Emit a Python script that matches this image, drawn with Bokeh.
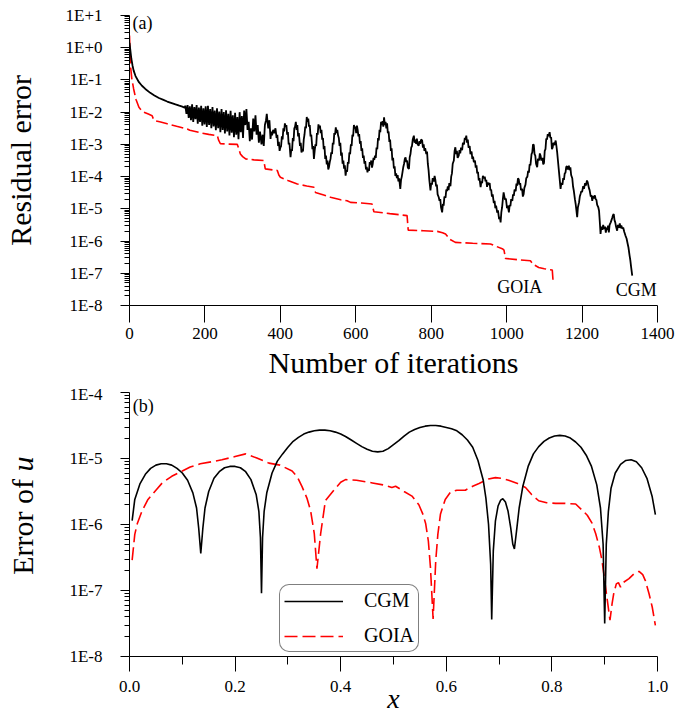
from bokeh.plotting import figure
from bokeh.models import (FixedTicker, CustomJSTickFormatter, Label, Legend, LegendItem,
                          PrintfTickFormatter, Range1d)
from bokeh.layouts import column, row
from bokeh.embed import file_html
from bokeh.resources import INLINE

# ---------------- data: panel (a) residual error vs iterations (log10 of residual) ----------------
iter_ticks = [0, 200, 400, 600, 800, 1000, 1200, 1400]
res_decades = list(range(-8, 2))          # 1E-8 ... 1E+1

cgm_a = [
    (0, 0.15), (2, -0.05), (5, -0.35), (8, -0.55), (11, -0.71), (16, -0.88), (25, -1.07), (33, -1.18),
    (42, -1.28), (55, -1.40), (66, -1.48), (78, -1.56), (90, -1.62), (100, -1.67), (110, -1.71),
    (122, -1.76), (132, -1.80), (140, -1.83), (146, -1.86),
    (148, -1.80), (151, -2.05), (154, -1.78), (157, -2.18), (160, -1.82), (163, -2.25), (166, -1.76),
    (169, -2.30), (172, -1.84), (175, -2.22), (178, -1.78), (181, -2.36), (184, -1.86), (187, -2.30),
    (190, -1.80), (193, -2.42), (196, -1.88), (199, -2.38), (202, -1.82), (205, -2.46), (208, -1.80),
    (211, -2.40), (214, -1.90), (217, -2.50), (220, -1.84), (223, -2.44), (226, -1.95), (229, -2.56),
    (232, -1.88), (235, -2.50), (238, -1.98), (241, -2.62), (244, -1.90), (247, -2.55), (250, -2.00),
    (253, -2.66), (256, -1.94), (259, -2.60), (262, -2.05), (265, -2.72), (268, -1.96), (271, -2.64),
    (274, -2.10), (277, -2.78), (280, -2.02), (283, -2.70), (286, -2.15), (289, -2.84), (292, -2.00),
    (295, -2.62), (298, -2.12), (301, -2.80), (304, -1.95), (307, -2.40), (310, -1.90), (313, -2.55),
    (316, -2.30), (319, -2.90), (322, -2.50), (325, -2.85), (328, -2.20), (331, -2.60), (334, -2.10),
    (337, -2.70), (340, -2.40), (343, -2.95), (346, -2.60), (350, -3.00), (353, -2.70), (356, -3.05),
    (359, -2.40), (362, -2.25), (364, -2.05), (366, -2.30), (368, -2.50), (371, -2.25), (374, -2.83),
    (376, -2.60), (378, -2.72), (381, -2.55), (384, -2.65), (387, -2.50), (390, -2.80), (392, -2.70),
    (394, -3.05), (396, -2.92), (398, -3.20), (400, -3.10), (402, -3.05), (404, -2.75), (406, -2.85),
    (408, -2.50), (410, -2.60), (412, -2.35), (414, -2.45), (416, -2.40), (418, -2.70), (420, -2.62),
    (422, -3.00), (424, -2.95), (427, -3.40), (429, -3.15), (431, -3.20), (433, -2.80), (435, -2.90),
    (437, -2.50), (439, -2.45), (441, -2.30), (443, -2.55), (445, -2.40), (447, -2.75), (449, -2.65),
    (452, -3.05), (454, -2.95), (456, -3.25), (458, -3.15), (460, -3.22), (462, -2.85), (464, -2.70),
    (466, -2.45), (468, -2.50), (470, -2.15), (472, -2.30), (474, -2.20), (476, -2.45), (478, -2.40),
    (480, -2.75), (482, -2.70), (485, -3.15), (487, -3.05), (489, -3.45), (491, -3.20), (493, -3.00),
    (495, -3.05), (497, -2.65), (499, -2.70), (501, -2.38), (503, -2.50), (505, -2.42), (507, -2.65),
    (509, -2.55), (511, -2.85), (513, -2.80), (515, -3.15), (517, -3.05), (519, -3.45), (521, -3.35),
    (523, -3.62), (525, -3.50), (527, -3.78), (529, -3.70), (531, -3.55), (533, -3.45), (535, -3.25),
    (537, -3.30), (539, -2.95), (541, -3.00), (543, -2.65), (545, -2.70), (547, -2.47), (549, -2.65),
    (551, -2.55), (553, -2.72), (555, -2.80), (557, -3.05), (559, -2.95), (561, -3.35), (563, -3.25),
    (565, -3.60), (567, -3.50), (569, -3.75), (571, -3.65), (573, -3.97), (575, -3.80), (577, -3.85),
    (579, -3.55), (581, -3.60), (583, -3.25), (585, -3.30), (587, -3.00), (589, -3.05), (591, -2.70),
    (593, -2.75), (595, -2.40), (597, -2.50), (599, -2.45), (601, -2.65), (603, -2.42), (605, -2.55),
    (607, -2.75), (609, -2.68), (611, -2.98), (613, -2.90), (615, -3.20), (617, -3.12), (619, -3.42),
    (621, -3.35), (623, -3.60), (625, -3.52), (627, -3.78), (629, -3.70), (631, -3.87), (633, -3.75),
    (635, -3.82), (637, -3.55), (639, -3.62), (641, -3.50), (643, -3.72), (645, -3.60), (647, -3.42),
    (649, -3.48), (651, -3.35), (653, -3.42), (655, -3.10), (657, -3.15), (659, -2.80), (661, -2.88),
    (663, -2.55), (665, -2.62), (667, -2.30), (669, -2.40), (671, -2.28), (673, -2.45), (675, -2.16),
    (677, -2.40), (679, -2.30), (681, -2.50), (683, -2.35), (685, -2.65), (687, -2.60), (689, -2.92),
    (691, -2.85), (693, -3.20), (695, -3.12), (697, -3.50), (699, -3.42), (701, -3.75), (703, -3.68),
    (705, -3.98), (707, -3.90), (709, -4.05), (711, -3.95), (713, -4.15), (715, -4.05), (718, -4.38),
    (720, -4.10), (722, -4.00), (724, -3.85), (726, -3.70), (728, -3.60), (730, -3.45), (732, -3.40),
    (734, -3.55), (736, -3.50), (738, -3.72), (741, -3.76), (743, -3.40), (745, -3.30), (747, -3.10),
    (749, -3.05), (751, -2.85), (754, -2.73), (756, -2.95), (758, -2.85), (760, -2.98), (762, -2.82),
    (764, -3.00), (767, -3.04), (769, -2.90), (771, -2.98), (773, -2.85), (776, -2.88), (778, -3.10),
    (780, -3.00), (782, -3.20), (784, -3.12), (787, -3.30), (789, -3.22), (791, -3.60), (793, -3.80),
    (795, -4.10), (798, -4.43), (800, -4.20), (802, -4.25), (804, -4.05), (807, -4.15), (809, -3.98),
    (811, -4.10), (813, -4.30), (815, -4.25), (817, -4.55), (820, -4.64), (822, -4.75), (824, -4.70),
    (826, -4.95), (829, -5.11), (831, -4.85), (833, -4.90), (835, -4.62), (838, -4.65), (840, -4.40),
    (842, -4.45), (844, -4.30), (846, -4.42), (848, -4.20), (851, -4.30), (853, -4.00), (855, -3.90),
    (857, -3.60), (860, -3.50), (862, -3.20), (864, -3.09), (866, -3.30), (868, -3.20), (870, -3.42),
    (873, -3.35), (875, -3.18), (877, -3.28), (879, -3.10), (882, -3.18), (884, -2.95), (887, -3.00),
    (889, -2.80), (891, -2.85), (893, -2.73), (895, -2.95), (897, -2.85), (899, -3.10), (902, -3.05),
    (904, -3.30), (907, -3.22), (909, -3.45), (911, -3.38), (913, -3.55), (916, -3.50), (918, -3.72),
    (920, -3.65), (922, -3.90), (924, -3.85), (926, -4.12), (928, -4.05), (931, -4.33), (933, -4.15),
    (935, -4.20), (937, -3.98), (940, -4.05), (942, -4.00), (944, -4.15), (946, -4.10), (948, -4.32),
    (950, -4.18), (952, -4.25), (955, -4.20), (957, -4.43), (959, -4.40), (961, -4.62), (963, -4.55),
    (966, -4.82), (968, -4.75), (970, -4.98), (972, -4.90), (975, -5.12), (977, -5.05), (980, -5.32),
    (982, -5.25), (984, -5.42), (986, -5.10), (988, -4.95), (990, -4.70), (992, -4.49), (994, -4.62),
    (996, -4.72), (998, -4.68), (1001, -4.98), (1003, -4.90), (1006, -5.11), (1008, -4.88),
    (1010, -4.92), (1012, -4.70), (1015, -4.75), (1017, -4.55), (1019, -4.60), (1021, -4.40),
    (1024, -4.45), (1026, -4.22), (1028, -4.28), (1030, -4.05), (1032, -4.08), (1034, -4.25),
    (1036, -4.20), (1038, -4.42), (1041, -4.38), (1043, -4.62), (1045, -4.55), (1047, -4.35),
    (1050, -4.25), (1052, -4.05), (1055, -4.00), (1057, -3.82), (1059, -3.88), (1061, -3.62),
    (1063, -3.65), (1066, -3.30), (1068, -3.25), (1070, -3.00), (1072, -3.02), (1074, -3.30),
    (1076, -3.35), (1078, -3.60), (1081, -3.71), (1083, -3.45), (1086, -3.50), (1088, -3.28),
    (1090, -3.35), (1092, -3.50), (1095, -3.42), (1097, -3.62), (1099, -3.58), (1101, -3.20),
    (1103, -3.15), (1105, -2.82), (1107, -2.85), (1109, -2.68), (1111, -2.75), (1114, -2.62),
    (1116, -2.80), (1118, -2.78), (1120, -3.15), (1122, -3.10), (1124, -2.95), (1127, -3.02),
    (1130, -2.88), (1132, -3.05), (1134, -3.25), (1136, -3.50), (1138, -3.75), (1140, -4.00),
    (1143, -4.38), (1145, -4.20), (1148, -4.25), (1150, -4.05), (1152, -4.10), (1154, -3.90),
    (1156, -3.88), (1158, -3.70), (1160, -3.68), (1162, -3.78), (1165, -3.66), (1167, -3.80),
    (1169, -3.71), (1171, -3.95), (1174, -4.05), (1176, -4.30), (1178, -4.43), (1181, -4.70),
    (1183, -4.85), (1185, -5.05), (1187, -5.26), (1189, -4.95), (1192, -4.80), (1194, -4.62),
    (1196, -4.54), (1198, -4.45), (1200, -4.48), (1203, -4.30), (1205, -4.38), (1208, -4.20),
    (1210, -4.28), (1213, -4.12), (1215, -4.18), (1218, -4.35), (1220, -4.42), (1223, -4.62),
    (1225, -4.58), (1227, -4.75), (1229, -4.60), (1231, -4.68), (1234, -4.58), (1236, -4.70),
    (1238, -4.72), (1240, -4.88), (1243, -4.95), (1245, -5.06), (1247, -5.40), (1249, -5.78),
    (1251, -5.55), (1254, -5.65), (1256, -5.50), (1258, -5.62), (1261, -5.55), (1263, -5.74),
    (1265, -5.58), (1267, -5.66), (1269, -5.52), (1271, -5.73), (1273, -5.50), (1276, -5.42),
    (1278, -5.35), (1280, -5.28), (1282, -5.20), (1284, -5.16), (1286, -5.35), (1288, -5.42),
    (1290, -5.55), (1293, -5.68), (1295, -5.50), (1298, -5.58), (1300, -5.45), (1302, -5.60),
    (1304, -5.52), (1307, -5.62), (1309, -5.58), (1312, -5.72), (1315, -5.83), (1318, -5.92),
    (1321, -6.09), (1323, -6.20), (1326, -6.45), (1328, -6.60), (1330, -6.80), (1333, -7.07),
]

goia_a = [
    (0, 0.38), (1, 0.0), (3, -0.6), (6, -0.95), (11, -1.28), (17, -1.6), (25, -1.85), (32, -1.95),
    (38, -2.0), (50, -2.06), (60, -2.11), (63, -2.2), (66, -2.26), (80, -2.30), (100, -2.36),
    (125, -2.44), (153, -2.52), (160, -2.56), (188, -2.64), (210, -2.69), (233, -2.73), (236, -2.86),
    (241, -2.98), (262, -2.99), (286, -3.0), (290, -3.15), (294, -3.30), (300, -3.38), (308, -3.45),
    (330, -3.48), (356, -3.50), (360, -3.76), (392, -3.81), (396, -3.95), (400, -4.02), (420, -4.12),
    (445, -4.23), (470, -4.29), (489, -4.33), (493, -4.49), (515, -4.57), (533, -4.64), (560, -4.72),
    (577, -4.75), (586, -4.80), (615, -4.82), (643, -4.85), (648, -5.09), (690, -5.15), (736, -5.21),
    (739, -5.66), (780, -5.68), (816, -5.70), (830, -5.74), (838, -5.78), (850, -5.95), (864, -6.04),
    (910, -6.07), (957, -6.09), (990, -6.25), (993, -6.28), (997, -6.54), (1030, -6.58), (1063, -6.61),
    (1070, -6.72), (1085, -6.82), (1100, -6.86), (1121, -6.90), (1123, -7.23),
]

# ---------------- data: panel (b) error of u vs x (log10 of error) ----------------
x_ticks = [0.0, 0.2, 0.4, 0.6, 0.8, 1.0]
x_minor_ticks = [0.1, 0.3, 0.5, 0.7, 0.9]
err_decades = list(range(-8, -3))         # 1E-8 ... 1E-4

cgm_b = [
    (0.005, -5.94), (0.01, -5.62), (0.02, -5.38), (0.03, -5.24), (0.04, -5.15), (0.05, -5.10),
    (0.06, -5.08), (0.07, -5.08), (0.08, -5.10), (0.09, -5.15), (0.10, -5.22), (0.11, -5.33),
    (0.12, -5.52), (0.127, -5.75), (0.131, -6.05), (0.135, -6.44), (0.139, -6.05), (0.143, -5.75),
    (0.15, -5.50), (0.16, -5.30), (0.17, -5.20), (0.18, -5.14), (0.19, -5.12), (0.20, -5.12),
    (0.21, -5.14), (0.22, -5.20), (0.23, -5.32), (0.24, -5.55), (0.245, -5.80), (0.248, -6.20),
    (0.25, -7.04), (0.252, -6.20), (0.255, -5.80), (0.26, -5.52), (0.27, -5.22), (0.28, -5.04),
    (0.29, -4.93), (0.30, -4.83), (0.31, -4.74), (0.32, -4.68), (0.33, -4.63), (0.34, -4.60),
    (0.35, -4.58), (0.36, -4.57), (0.37, -4.57), (0.38, -4.58), (0.39, -4.60), (0.40, -4.63),
    (0.41, -4.67), (0.42, -4.72), (0.43, -4.77), (0.44, -4.82), (0.45, -4.86), (0.46, -4.89),
    (0.47, -4.90), (0.48, -4.89), (0.49, -4.85), (0.50, -4.79), (0.51, -4.73), (0.52, -4.66),
    (0.53, -4.60), (0.54, -4.56), (0.55, -4.53), (0.56, -4.51), (0.57, -4.50), (0.58, -4.50),
    (0.59, -4.51), (0.60, -4.53), (0.61, -4.55), (0.62, -4.58), (0.63, -4.64), (0.64, -4.72),
    (0.65, -4.83), (0.66, -5.03), (0.67, -5.33), (0.675, -5.60), (0.68, -6.00), (0.684, -6.6),
    (0.686, -7.44), (0.689, -6.4), (0.693, -5.95), (0.698, -5.72), (0.703, -5.63), (0.707, -5.61),
    (0.712, -5.66), (0.717, -5.80), (0.722, -6.05), (0.726, -6.30), (0.729, -6.37), (0.733, -6.10),
    (0.738, -5.75), (0.745, -5.42), (0.755, -5.12), (0.765, -4.93), (0.775, -4.82), (0.785, -4.74),
    (0.795, -4.69), (0.805, -4.66), (0.815, -4.65), (0.825, -4.66), (0.835, -4.69), (0.845, -4.75),
    (0.855, -4.83), (0.865, -4.95), (0.875, -5.12), (0.885, -5.40), (0.892, -5.75), (0.897, -6.30),
    (0.900, -7.50), (0.903, -6.30), (0.907, -5.80), (0.912, -5.45), (0.92, -5.22), (0.93, -5.09),
    (0.94, -5.03), (0.95, -5.02), (0.96, -5.05), (0.97, -5.14), (0.98, -5.30), (0.99, -5.58),
    (0.996, -5.85),
]

goia_b = [
    (0.005, -6.54), (0.01, -6.15), (0.015, -5.98), (0.024, -5.79), (0.035, -5.62), (0.05, -5.48),
    (0.062, -5.37), (0.08, -5.27), (0.10, -5.19), (0.115, -5.13), (0.134, -5.08), (0.155, -5.05),
    (0.175, -5.02), (0.20, -4.97), (0.22, -4.93), (0.24, -4.99), (0.264, -5.07), (0.285, -5.10),
    (0.308, -5.19), (0.318, -5.28), (0.327, -5.43), (0.336, -5.60), (0.343, -5.79), (0.350, -6.14),
    (0.355, -6.67), (0.362, -6.14), (0.371, -5.64), (0.387, -5.48), (0.40, -5.36), (0.409, -5.32),
    (0.43, -5.33), (0.46, -5.37), (0.48, -5.40), (0.497, -5.44), (0.504, -5.42), (0.52, -5.50),
    (0.535, -5.57), (0.548, -5.70), (0.556, -5.85), (0.561, -5.99), (0.566, -6.25), (0.570, -6.65),
    (0.575, -7.43), (0.580, -6.55), (0.584, -6.15), (0.589, -5.84), (0.598, -5.62), (0.608, -5.51),
    (0.62, -5.48), (0.636, -5.48), (0.65, -5.42), (0.662, -5.38), (0.68, -5.31), (0.693, -5.29),
    (0.705, -5.30), (0.718, -5.33), (0.735, -5.38), (0.75, -5.44), (0.762, -5.55), (0.775, -5.64),
    (0.79, -5.67), (0.807, -5.68), (0.825, -5.68), (0.845, -5.69), (0.857, -5.78), (0.867, -5.86),
    (0.876, -5.98), (0.883, -6.14), (0.89, -6.35), (0.895, -6.55), (0.900, -6.85), (0.905, -7.15),
    (0.910, -7.45), (0.914, -7.20), (0.917, -7.05), (0.922, -6.90), (0.926, -6.88), (0.930, -6.95),
    (0.935, -6.88), (0.946, -6.82), (0.955, -6.75), (0.965, -6.71), (0.972, -6.76), (0.977, -6.85),
    (0.984, -7.05), (0.99, -7.25), (0.996, -7.53),
]

series_names = ["CGM", "GOIA"]

# ---------------- helpers ----------------
FONT = "Liberation Serif"


def xs(pairs):
    return [p[0] for p in pairs]


def ys(pairs):
    return [10.0 ** p[1] for p in pairs]


log_fmt = CustomJSTickFormatter(code="""
const e = Math.round(Math.log10(tick));
return "1E" + (e >= 0 ? "+" : "") + e;
""")


def style_axis(ax, major_out, minor_out, standoff):
    ax.axis_line_color = "black"
    ax.axis_line_width = 1
    ax.major_tick_line_color = "black"
    ax.minor_tick_line_color = "black"
    ax.major_tick_in = 0
    ax.major_tick_out = major_out
    ax.minor_tick_in = 0
    ax.minor_tick_out = minor_out
    ax.major_label_text_font = FONT
    ax.major_label_text_font_size = "17px"
    ax.major_label_text_color = "black"
    ax.major_label_standoff = standoff
    ax.axis_label_text_font = FONT
    ax.axis_label_text_color = "black"
    ax.axis_label_text_font_style = "normal"


def decade_ticker(decades):
    major = [10.0 ** e for e in decades]
    minor = [m * 10.0 ** e for e in decades[:-1] for m in range(2, 10)]
    return FixedTicker(ticks=major, minor_ticks=minor)


# ---------------- panel (a) ----------------
H1 = 384
p1 = figure(width=675, height=H1, x_range=Range1d(0, 1400), y_range=Range1d(1e-8, 1e1),
            y_axis_type="log", output_backend="svg", toolbar_location=None,
            min_border_left=129, min_border_right=18, min_border_top=15, min_border_bottom=H1 - 305)
p1.outline_line_color = None
p1.grid.visible = False

p1.line(xs(goia_a), ys(goia_a), line_color="#ff0000", line_width=1.6, line_dash="12 4")
p1.line(xs(cgm_a), ys(cgm_a), line_color="black", line_width=1.8)

xa = p1.xaxis[0]
style_axis(xa, 17, 0, 5)
xa.ticker = FixedTicker(ticks=iter_ticks, minor_ticks=[])
xa.axis_label = "Number of iterations"
xa.axis_label_text_font_size = "30px"
xa.axis_label_standoff = 4

ya = p1.yaxis[0]
style_axis(ya, 9, 5, 18)
ya.ticker = decade_ticker(res_decades)
ya.formatter = log_fmt
ya.axis_label = "Residual error"
ya.axis_label_text_font_size = "30px"
ya.axis_label_standoff = 26

p1.add_layout(Label(x=8, y=10 ** 0.78, text="(a)", text_font=FONT, text_font_size="18px",
                    text_align="left", text_baseline="middle", text_color="black"))
p1.add_layout(Label(x=975, y=10 ** -7.42, text=series_names[1], text_font=FONT, text_font_size="18px",
                    text_align="left", text_baseline="middle", text_color="black"))
p1.add_layout(Label(x=1289, y=10 ** -7.51, text=series_names[0], text_font=FONT, text_font_size="18px",
                    text_align="left", text_baseline="middle", text_color="black"))

# ---------------- panel (b) ----------------
H2 = 718 - H1
TOP2 = 392 - H1
lab2 = figure(width=48, height=H2, x_range=Range1d(0, 48), y_range=Range1d(0, H2),
              output_backend="svg", toolbar_location=None, x_axis_location=None,
              y_axis_location=None, min_border_left=0, min_border_right=0, min_border_top=0,
              min_border_bottom=0)
lab2.outline_line_color = None
lab2.grid.visible = False
lab2.add_layout(Label(x=22, y=718 - 484, text="Error of ", text_font=FONT, text_font_size="30px",
                      text_align="right", text_baseline="middle", angle=1.5707963,
                      text_color="black"))
lab2.add_layout(Label(x=22, y=718 - 484, text="u", text_font=FONT, text_font_style="italic",
                      text_font_size="30px", text_align="left", text_baseline="middle",
                      angle=1.5707963, text_color="black"))

p2 = figure(width=627, height=H2, x_range=Range1d(0, 1), y_range=Range1d(1e-8, 1e-4),
            y_axis_type="log", output_backend="svg", toolbar_location=None,
            min_border_left=81, min_border_right=18, min_border_top=TOP2,
            min_border_bottom=H2 - TOP2 - 264)
p2.outline_line_color = None
p2.grid.visible = False

r_goia = p2.line(xs(goia_b), ys(goia_b), line_color="#ff0000", line_width=1.6, line_dash="13 5")
r_cgm = p2.line(xs(cgm_b), ys(cgm_b), line_color="black", line_width=1.6)

xb = p2.xaxis[0]
style_axis(xb, 15, 8, 9)
xb.ticker = FixedTicker(ticks=x_ticks, minor_ticks=x_minor_ticks)
xb.formatter = PrintfTickFormatter(format="%.1f")
xb.axis_label = "x"
xb.axis_label_text_font_size = "28px"
xb.axis_label_text_font_style = "italic"
xb.axis_label_standoff = -12

yb = p2.yaxis[0]
style_axis(yb, 9, 5, 18)
yb.ticker = decade_ticker(err_decades)
yb.formatter = log_fmt

p2.add_layout(Label(x=0.006, y=10 ** -4.197, text="(b)", text_font=FONT, text_font_size="18px",
                    text_align="left", text_baseline="middle", text_color="black"))

legend = Legend(items=[LegendItem(label=series_names[0], renderers=[r_cgm]),
                       LegendItem(label=series_names[1], renderers=[r_goia])],
                location=(150, 4), padding=4, spacing=12, margin=0,
                glyph_width=59, glyph_height=20, label_height=20, label_standoff=21,
                label_text_font=FONT, label_text_font_size="20px", label_text_color="black",
                border_line_color="black", border_line_width=1, background_fill_color="white",
                background_fill_alpha=1.0)
try:
    legend.border_radius = 10
except Exception:
    pass
p2.add_layout(legend)

layout = column(p1, row(lab2, p2, spacing=0), spacing=0)
open("out.html", "w").write(file_html(layout, INLINE))
